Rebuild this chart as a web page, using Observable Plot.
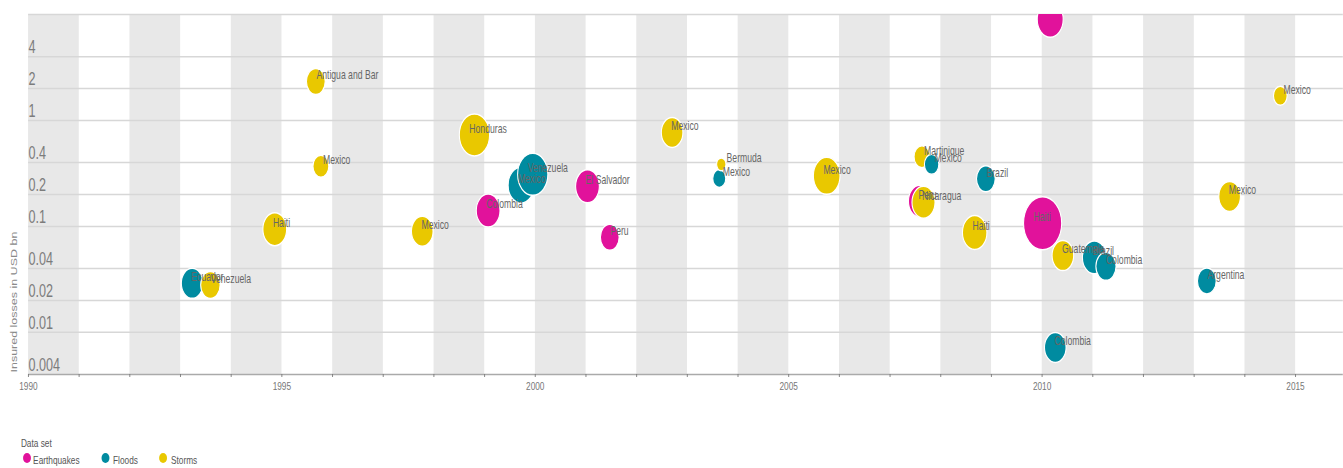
<!DOCTYPE html>
<html>
<head>
<meta charset="utf-8">
<script src="https://cdn.jsdelivr.net/npm/d3@7"></script>
<script src="https://cdn.jsdelivr.net/npm/@observablehq/plot@0.6"></script>
<style>
  html, body { margin: 0; padding: 0; background: #fff; overflow: hidden; }
  #wrap { position: relative; width: 1865px; height: 468px; transform: scaleX(0.72); transform-origin: 0 0; font-family: "Liberation Sans", Arial, sans-serif; }
  #chart svg { display: block; }
  .lg { position: absolute; font-size: 11.5px; line-height: 13px; color: #555; white-space: nowrap; }
  .dot { position: absolute; width: 11px; height: 10px; border-radius: 50%; }
</style>
</head>
<body>
<div id="wrap">
  <div id="chart"></div>
  <div id="legend"></div>
</div>
<script>
// ---- data ----
const years = [1993.23, 1993.59, 1994.86, 1995.67, 1995.77, 1997.77, 1998.80, 1999.07, 1999.72, 1999.95,
               2001.03, 2001.47, 2002.70, 2003.63, 2003.67, 2005.75, 2007.59, 2007.63, 2007.66, 2007.82,
               2008.67, 2008.89, 2010.01, 2010.16, 2010.26, 2010.41, 2011.03, 2011.26, 2013.25, 2013.70, 2014.70];
const losses = [0.029, 0.028, 0.094, 2.33, 0.37, 0.09, 0.73, 0.141, 0.245, 0.31,
                0.239, 0.079, 0.77, 0.283, 0.385, 0.30, 0.173, 0.454, 0.169, 0.385,
                0.0877, 0.281, 0.107, 9.0, 0.0072, 0.053, 0.051, 0.042, 0.0306, 0.192, 1.71];
const dataSets = ["Floods", "Storms", "Storms", "Storms", "Storms", "Storms", "Storms", "Earthquakes", "Floods", "Floods",
                  "Earthquakes", "Earthquakes", "Storms", "Floods", "Storms", "Storms", "Earthquakes", "Storms", "Storms", "Floods",
                  "Storms", "Floods", "Earthquakes", "Earthquakes", "Floods", "Storms", "Floods", "Floods", "Floods", "Storms", "Storms"];
const countries = ["Ecuador", "Venezuela", "Haiti", "Antigua and Bar", "Mexico", "Mexico", "Honduras", "Colombia", "Mexico", "Venezuela",
                   "El Salvador", "Peru", "Mexico", "Mexico", "Bermuda", "Mexico", "Peru", "Martinique", "Nicaragua", "Mexico",
                   "Haiti", "Brazil", "Haiti", "", "Colombia", "Guatemala", "Brazil", "Colombia", "Argentina", "Mexico", "Mexico"];
const bubbleSize = [225, 182, 272, 169, 121, 225, 441, 272, 324, 441,
                    272, 169, 225, 81, 42, 342, 256, 121, 256, 100,
                    289, 169, 702, 324, 225, 225, 272, 196, 169, 225, 90];

const categories = ["Earthquakes", "Floods", "Storms"];
const palette = ["#e1129b", "#008ba0", "#e9c800"];
const yTicks = [4, 2, 1, 0.4, 0.2, 0.1, 0.04, 0.02, 0.01, 0.004];
const yGrid = [10, 4, 2, 1, 0.4, 0.2, 0.1, 0.04, 0.02, 0.01];
const bandStarts = [1990, 1992, 1994, 1996, 1998, 2000, 2002, 2004, 2006, 2008, 2010, 2012, 2014];
const yearTicks = d3.range(1990, 2016);

const rows = years.map((y, i) => ({year: y, loss: losses[i], type: dataSets[i], label: countries[i], size: bubbleSize[i]}));
const rScale = d3.scaleSqrt().domain([0, 100]).range([0, 10]);

const W = 1865, H = 400;
const chart = Plot.plot({
  width: W, height: H,
  marginLeft: 39, marginRight: 0, marginTop: 14, marginBottom: 26,
  x: {domain: [1990, 2015.94], axis: null, label: null},
  y: {type: "log", domain: [0.004, 10], axis: null, label: null},
  r: {type: "sqrt", domain: [0, 100], range: [0, 10]},
  color: {domain: categories, range: palette},
  style: {fontFamily: "'Liberation Sans', Arial, sans-serif", background: "transparent", overflow: "visible"},
  marks: [
    Plot.rect(bandStarts, {x1: d => d, x2: d => d + 1, fill: "#e8e8e8"}),
    Plot.ruleY(yGrid, {stroke: "#d7d7d7", strokeWidth: 1.5}),
    Plot.ruleY([0.004], {stroke: "#aaaaaa", strokeWidth: 1.5}),
    Plot.axisX(yearTicks, {tickSize: 3, tickPadding: 4, label: null, tickFormat: d => d % 5 === 0 ? String(d) : "", fontSize: 11.5, color: "#777"}),
    Plot.text(yTicks, {y: d => d, text: d => String(d), frameAnchor: "left", textAnchor: "start", dy: -9, dx: 0, fontSize: 17.5, fill: "#7c7c7c"}),
    Plot.text(["Insured losses in USD bn"], {frameAnchor: "bottom-left", text: d => d, rotate: -90, textAnchor: "start", dx: -15.5, dy: -2, fontSize: 12.5, fill: "#8a8a8a"}),
    Plot.dot(rows, {x: "year", y: "loss", r: "size", fill: "type", stroke: "white", strokeWidth: 1.5, sort: null, clip: true}),
    Plot.text(rows, {
      x: "year", y: "loss", text: "label", filter: d => d.label !== "",
      textAnchor: "start", dy: -6, fontSize: 12, fill: "#666", clip: true,
      render: (index, scales, values, dimensions, context, next) => {
        const X = Float64Array.from(values.x, (x, i) => x + 13.9 - rScale(rows[i].size));
        return next(index, scales, {...values, x: X}, dimensions, context);
      }
    })
  ]
});
chart.style.overflow = "visible";
document.getElementById("chart").appendChild(chart);

// ---- legend ----
const lg = document.getElementById("legend");
const title = document.createElement("div");
title.className = "lg"; title.textContent = "Data set";
title.style.left = "29px"; title.style.top = "437px";
lg.appendChild(title);
const dotLeft = [32, 141, 221];
const textLeft = [46, 157, 237.5];
categories.forEach((c, i) => {
  const d = document.createElement("div");
  d.className = "dot"; d.style.background = palette[i];
  d.style.left = dotLeft[i] + "px"; d.style.top = "453px";
  lg.appendChild(d);
  const t = document.createElement("div");
  t.className = "lg"; t.textContent = c;
  t.style.left = textLeft[i] + "px"; t.style.top = "453.5px";
  lg.appendChild(t);
});
</script>
</body>
</html>
